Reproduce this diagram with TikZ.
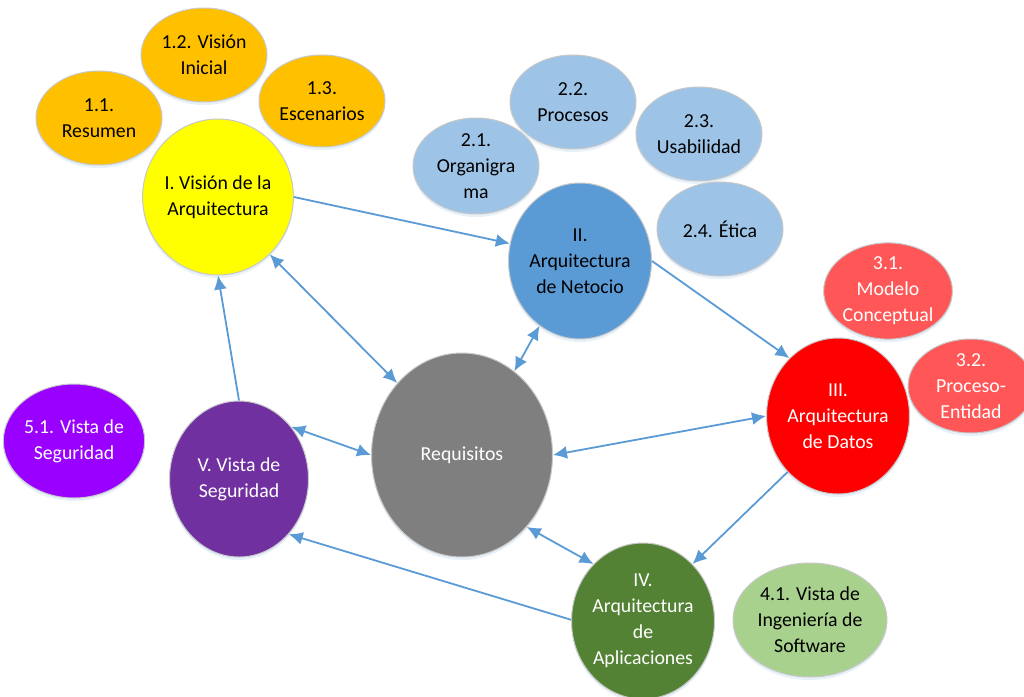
\documentclass[tikz,border=0pt]{standalone}
\usepackage{fontspec}
\setmainfont{Carlito}
\usetikzlibrary{shapes.geometric,arrows.meta,shadows}

\definecolor{cOrange}{HTML}{FFC000}
\definecolor{cYellow}{HTML}{FFFF00}
\definecolor{cLightBlue}{HTML}{9DC3E6}
\definecolor{cBlue}{HTML}{5B9BD5}
\definecolor{cLightRed}{HTML}{FF5757}
\definecolor{cRed}{HTML}{FF0000}
\definecolor{cGray}{HTML}{7F7F7F}
\definecolor{cPurple}{HTML}{7030A0}
\definecolor{cViolet}{HTML}{9900FF}
\definecolor{cGreen}{HTML}{548235}
\definecolor{cLightGreen}{HTML}{A9D18E}
\definecolor{cArrow}{HTML}{5B9BD5}
\definecolor{cRim}{HTML}{C8C8C8}

\tikzset{
  bubble/.style n args={3}{ellipse, inner sep=0pt, align=center,
    minimum width=#1, minimum height=#2, fill=#3, draw=cRim, line width=1pt,
    font=\fontsize{19.8}{26}\selectfont,
    drop shadow={shadow xshift=0pt, shadow yshift=-3pt, fill=cBlue!40, opacity=0.35}},
  dark/.style={text=white},
  link/.style={draw=cArrow, line width=1.8pt, -{Latex[length=14pt,width=13pt]}},
  both/.style={draw=cArrow, line width=1.8pt, {Latex[length=14pt,width=13pt]}-{Latex[length=14pt,width=13pt]}},
}

\begin{document}
\begin{tikzpicture}[x=1pt,y=-1pt]
\useasboundingbox[fill=white] (0,0) rectangle (1024,696);

% I. Vision
\node[bubble={126pt}{94pt}{cOrange}] (n12) at (204,55) {1.2. Visión\\Inicial};
\node[bubble={126pt}{94pt}{cOrange}] (n11) at (99,118) {1.1.\\Resumen};
\node[bubble={126pt}{92pt}{cOrange}] (n13) at (322,101) {1.3.\\Escenarios};
\node[bubble={140pt}{156pt}{cYellow}] (vis) at (218,197) {I. Visión de la\\Arquitectura};

% II. Negocio
\node[bubble={126pt}{94pt}{cLightBlue}] (n22) at (573,102) {2.2.\\Procesos};
\node[bubble={126pt}{96pt}{cLightBlue}] (n21) at (476,166) {2.1.\\Organigra\\ma};
\node[bubble={126pt}{94pt}{cLightBlue}] (n23) at (699,134) {2.3.\\Usabilidad};
\node[bubble={126pt}{94pt}{cLightBlue}] (n24) at (720,229) {2.4. Ética};
\node[bubble={140pt}{156pt}{cBlue}] (neg) at (580,261) {II.\\Arquitectura\\de Netocio};

% III. Datos
\node[bubble={126pt}{92pt}{cLightRed},dark] (n31) at (888,291) {3.1.\\Modelo\\Conceptual};
\node[bubble={126pt}{94pt}{cLightRed},dark] (n32) at (971,386) {3.2.\\Proceso-\\Entidad};
\node[bubble={138pt}{156pt}{cRed},dark] (dat) at (838,416) {III.\\Arquitectura\\de Datos};

% Requisitos
\node[bubble={181pt}{204pt}{cGray},dark] (req) at (462,455) {Requisitos};

% IV. Aplicaciones
\node[bubble={140pt}{156pt}{cGreen},dark] (app) at (643,621) {IV.\\Arquitectura\\de\\Aplicaciones};
\node[bubble={154pt}{114pt}{cLightGreen}] (n41) at (810,620) {4.1. Vista de\\Ingeniería de\\Software};

% V. Seguridad
\node[bubble={132pt}{114pt}{cViolet},dark] (n51) at (74,441) {5.1. Vista de\\Seguridad};
\node[bubble={139pt}{156pt}{cPurple},dark] (seg) at (239,479) {V. Vista de\\Seguridad};

% cycle of the architecture phases
\draw[link] (vis.east) -- (neg.166);
\draw[link] (neg.east) -- (dat.130);
\draw[link] (dat.228) -- (app.49);
\draw[link] (app.179) -- (seg.312);
\draw[link] (seg.north) -- (vis.south);

% requirements connect to every phase
\draw[both] (req.132) -- (vis.312);
\draw[both] (req.58) -- (neg.238);
\draw[both] (req.east) -- (dat.west);
\draw[both] (req.312) -- (app.131);
\draw[both] (req.west) -- (seg.45);
\end{tikzpicture}
\end{document}
